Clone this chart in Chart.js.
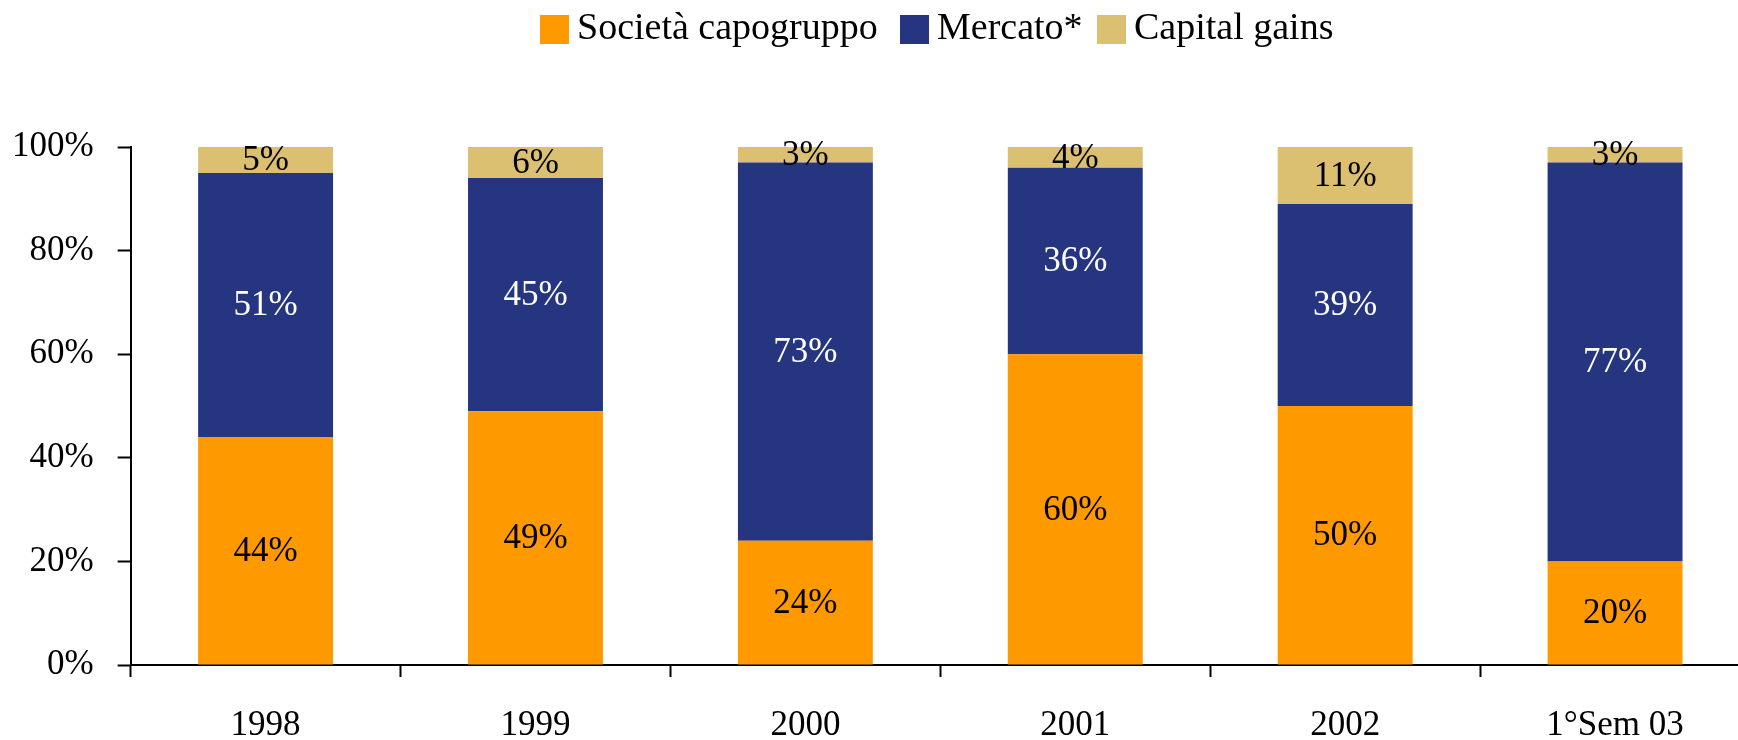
<!DOCTYPE html>
<html>
<head>
<meta charset="utf-8">
<script src="https://cdn.jsdelivr.net/npm/chart.js@4.4.1/dist/chart.umd.min.js"></script>
<style>
  html, body { margin: 0; padding: 0; background: #fff; overflow: hidden; }
  #wrapper { position: relative; width: 1760px; height: 740px; }
  .leg { position: absolute; top: 4px; display: flex; align-items: flex-start; font-family: "Liberation Serif", "Times New Roman", serif; font-size: 38px; line-height: 44px; color: #000; white-space: nowrap; }
  .leg span.box { display: inline-block; width: 29px; height: 29px; margin-top: 11px; margin-right: 8px; }
</style>
</head>
<body>
<div id="wrapper">
  <canvas id="myChart"></canvas>
  <div class="leg" style="left:540px"><span class="box" style="background:#ff9900"></span>Società capogruppo</div>
  <div class="leg" style="left:900px"><span class="box" style="background:#263580"></span>Mercato*</div>
  <div class="leg" style="left:1097px"><span class="box" style="background:#dbc072"></span>Capital gains</div>
</div>
<script>
const categorie = ['1998', '1999', '2000', '2001', '2002', '1°Sem 03']
const capogruppo = [44, 49, 24, 60, 50, 20]
const mercato = [51, 45, 73, 36, 39, 77]
const capitalGains = [5, 6, 3, 4, 11, 3]
const yTicks = [0, 20, 40, 60, 80, 100]

const font = 'Liberation Serif'

// etichette al centro di ogni segmento
const etichette = {
  id: 'etichette',
  afterDatasetsDraw(chart) {
    const ctx = chart.ctx
    ctx.save()
    ctx.font = '35px "' + font + '"'
    ctx.textAlign = 'center'
    ctx.textBaseline = 'middle'
    chart.data.datasets.forEach((ds, i) => {
      const meta = chart.getDatasetMeta(i)
      meta.data.forEach((bar, j) => {
        ctx.fillStyle = ds.labelColor
        ctx.fillText(ds.data[j] + '%', bar.x, (bar.y + bar.base) / 2 + 1)
      })
    })
    ctx.restore()
  }
}

const data = {
  labels: categorie,
  datasets: [
    {
      label: 'Società capogruppo',
      data: capogruppo,
      backgroundColor: '#ff9900',
      labelColor: '#000',
      barPercentage: 0.5,
      categoryPercentage: 1
    },
    {
      label: 'Mercato*',
      data: mercato,
      backgroundColor: '#263580',
      labelColor: '#fff',
      barPercentage: 0.5,
      categoryPercentage: 1
    },
    {
      label: 'Capital gains',
      data: capitalGains,
      backgroundColor: '#dbc072',
      labelColor: '#000',
      barPercentage: 0.5,
      categoryPercentage: 1
    }
  ]
}

const config = {
  type: 'bar',
  data: data,
  plugins: [etichette],
  options: {
    responsive: true,
    maintainAspectRatio: false,
    animation: false,
    layout: {
      padding: { left: -12, right: 10, top: 147, bottom: -35 }
    },
    plugins: {
      legend: { display: false },
      tooltip: { enabled: false }
    },
    scales: {
      x: {
        stacked: true,
        border: { color: '#000', width: 2 },
        grid: {
          offset: true,
          drawOnChartArea: false,
          drawTicks: true,
          tickLength: 12,
          tickColor: '#000',
          tickWidth: 2
        },
        ticks: {
          color: '#000',
          padding: 28,
          maxRotation: 0,
          font: { family: font, size: 35 }
        }
      },
      y: {
        stacked: true,
        min: 0,
        max: 100,
        afterBuildTicks: axis => {
          axis.ticks = yTicks.map(v => ({ value: v }))
        },
        border: { color: '#000', width: 2 },
        grid: {
          drawOnChartArea: false,
          drawTicks: true,
          tickLength: 13,
          tickColor: '#000',
          tickWidth: 2
        },
        ticks: {
          color: '#000',
          padding: 24,
          font: { family: font, size: 35 },
          callback: function (value) {
            return value + '%'
          }
        }
      }
    }
  }
}

new Chart(document.getElementById('myChart'), config)
</script>
</body>
</html>
